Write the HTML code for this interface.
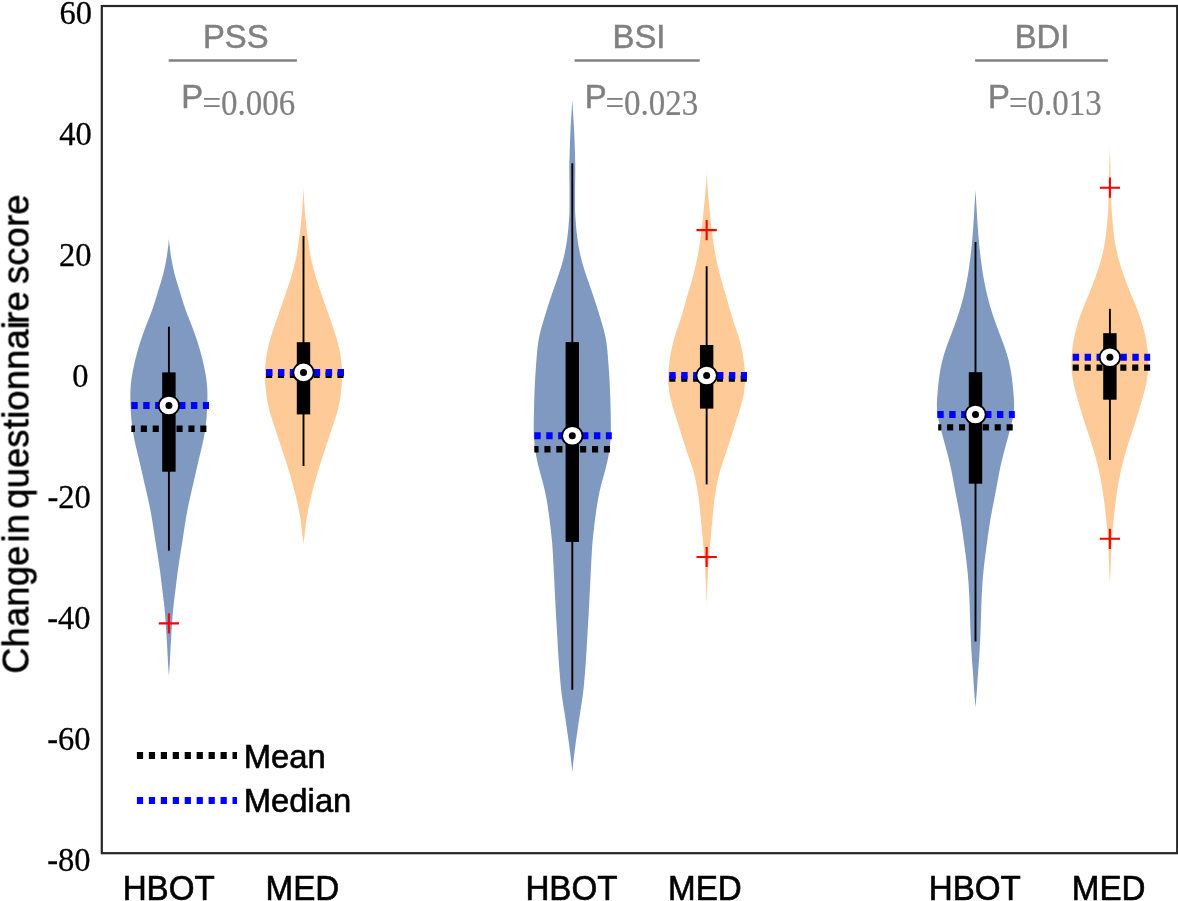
<!DOCTYPE html>
<html><head><meta charset="utf-8"><title>Violin chart</title>
<style>html,body{margin:0;padding:0;background:#fff;}svg{display:block;}</style></head>
<body><svg width="1178" height="901" viewBox="0 0 1178 901">
<defs><filter id="nf" x="0" y="0" width="1178" height="901" filterUnits="userSpaceOnUse" color-interpolation-filters="sRGB"><feOffset dx="0" dy="0" color-interpolation-filters="sRGB"/></filter></defs>
<rect width="1178" height="901" fill="#fff"/>
<g filter="url(#nf)">
<path d="M168.90,238.8 L169.07,240.8 L169.26,242.8 L169.46,244.8 L169.69,246.8 L169.93,248.8 L170.19,250.8 L170.46,252.8 L170.74,254.8 L171.05,256.8 L171.39,258.8 L171.74,260.8 L172.12,262.8 L172.51,264.8 L172.92,266.8 L173.35,268.8 L173.80,270.8 L174.27,272.8 L174.78,274.8 L175.33,276.8 L175.90,278.8 L176.49,280.8 L177.10,282.8 L177.70,284.8 L178.32,286.8 L178.93,288.8 L179.55,290.8 L180.16,292.8 L180.76,294.8 L181.37,296.8 L181.98,298.8 L182.60,300.8 L183.23,302.8 L183.88,304.8 L184.54,306.8 L185.23,308.8 L185.94,310.8 L186.67,312.8 L187.43,314.8 L188.20,316.8 L188.99,318.8 L189.78,320.8 L190.57,322.8 L191.35,324.8 L192.13,326.8 L192.90,328.8 L193.65,330.8 L194.38,332.8 L195.09,334.8 L195.79,336.8 L196.46,338.8 L197.12,340.8 L197.76,342.8 L198.39,344.8 L198.99,346.8 L199.58,348.8 L200.15,350.8 L200.70,352.8 L201.24,354.8 L201.76,356.8 L202.26,358.8 L202.75,360.8 L203.22,362.8 L203.67,364.8 L204.11,366.8 L204.53,368.8 L204.93,370.8 L205.31,372.8 L205.66,374.8 L205.99,376.8 L206.29,378.8 L206.56,380.8 L206.79,382.8 L206.98,384.8 L207.14,386.8 L207.26,388.8 L207.34,390.8 L207.40,392.8 L207.43,394.8 L207.43,396.8 L207.41,398.8 L207.38,400.8 L207.33,402.8 L207.27,404.8 L207.20,406.8 L207.11,408.8 L207.01,410.8 L206.90,412.8 L206.77,414.8 L206.63,416.8 L206.46,418.8 L206.27,420.8 L206.07,422.8 L205.84,424.8 L205.58,426.8 L205.31,428.8 L205.01,430.8 L204.69,432.8 L204.35,434.8 L203.99,436.8 L203.61,438.8 L203.20,440.8 L202.78,442.8 L202.34,444.8 L201.88,446.8 L201.41,448.8 L200.93,450.8 L200.45,452.8 L199.96,454.8 L199.47,456.8 L198.99,458.8 L198.51,460.8 L198.04,462.8 L197.58,464.8 L197.12,466.8 L196.66,468.8 L196.21,470.8 L195.76,472.8 L195.31,474.8 L194.86,476.8 L194.40,478.8 L193.94,480.8 L193.48,482.8 L193.01,484.8 L192.55,486.8 L192.09,488.8 L191.62,490.8 L191.16,492.8 L190.71,494.8 L190.26,496.8 L189.81,498.8 L189.37,500.8 L188.94,502.8 L188.52,504.8 L188.11,506.8 L187.71,508.8 L187.32,510.8 L186.94,512.8 L186.57,514.8 L186.21,516.8 L185.87,518.8 L185.54,520.8 L185.22,522.8 L184.90,524.8 L184.59,526.8 L184.29,528.8 L183.99,530.8 L183.68,532.8 L183.38,534.8 L183.07,536.8 L182.77,538.8 L182.45,540.8 L182.14,542.8 L181.83,544.8 L181.51,546.8 L181.19,548.8 L180.88,550.8 L180.56,552.8 L180.24,554.8 L179.93,556.8 L179.61,558.8 L179.30,560.8 L179.00,562.8 L178.69,564.8 L178.40,566.8 L178.11,568.8 L177.83,570.8 L177.56,572.8 L177.30,574.8 L177.04,576.8 L176.80,578.8 L176.55,580.8 L176.31,582.8 L176.08,584.8 L175.84,586.8 L175.60,588.8 L175.36,590.8 L175.12,592.8 L174.87,594.8 L174.62,596.8 L174.37,598.8 L174.12,600.8 L173.88,602.8 L173.64,604.8 L173.42,606.8 L173.22,608.8 L173.03,610.8 L172.85,612.8 L172.69,614.8 L172.53,616.8 L172.38,618.8 L172.24,620.8 L172.10,622.8 L171.96,624.8 L171.83,626.8 L171.70,628.8 L171.57,630.8 L171.45,632.8 L171.32,634.8 L171.21,636.8 L171.09,638.8 L170.98,640.8 L170.86,642.8 L170.75,644.8 L170.64,646.8 L170.53,648.8 L170.42,650.8 L170.32,652.8 L170.22,654.8 L170.12,656.8 L170.02,658.8 L169.92,660.8 L169.81,662.8 L169.69,664.8 L169.57,666.8 L169.43,668.8 L169.29,670.8 L169.14,672.8 L168.98,674.8 L168.90,675.8 L168.90,675.8 L168.82,674.8 L168.66,672.8 L168.51,670.8 L168.37,668.8 L168.23,666.8 L168.11,664.8 L167.99,662.8 L167.88,660.8 L167.78,658.8 L167.68,656.8 L167.58,654.8 L167.48,652.8 L167.38,650.8 L167.27,648.8 L167.16,646.8 L167.05,644.8 L166.94,642.8 L166.82,640.8 L166.71,638.8 L166.59,636.8 L166.48,634.8 L166.35,632.8 L166.23,630.8 L166.10,628.8 L165.97,626.8 L165.84,624.8 L165.70,622.8 L165.56,620.8 L165.42,618.8 L165.27,616.8 L165.11,614.8 L164.95,612.8 L164.77,610.8 L164.58,608.8 L164.38,606.8 L164.16,604.8 L163.92,602.8 L163.68,600.8 L163.43,598.8 L163.18,596.8 L162.93,594.8 L162.68,592.8 L162.44,590.8 L162.20,588.8 L161.96,586.8 L161.72,584.8 L161.49,582.8 L161.25,580.8 L161.00,578.8 L160.76,576.8 L160.50,574.8 L160.24,572.8 L159.97,570.8 L159.69,568.8 L159.40,566.8 L159.11,564.8 L158.80,562.8 L158.50,560.8 L158.19,558.8 L157.87,556.8 L157.56,554.8 L157.24,552.8 L156.92,550.8 L156.61,548.8 L156.29,546.8 L155.97,544.8 L155.66,542.8 L155.35,540.8 L155.03,538.8 L154.73,536.8 L154.42,534.8 L154.12,532.8 L153.81,530.8 L153.51,528.8 L153.21,526.8 L152.90,524.8 L152.58,522.8 L152.26,520.8 L151.93,518.8 L151.59,516.8 L151.23,514.8 L150.86,512.8 L150.48,510.8 L150.09,508.8 L149.69,506.8 L149.28,504.8 L148.86,502.8 L148.43,500.8 L147.99,498.8 L147.54,496.8 L147.09,494.8 L146.64,492.8 L146.18,490.8 L145.71,488.8 L145.25,486.8 L144.79,484.8 L144.32,482.8 L143.86,480.8 L143.40,478.8 L142.94,476.8 L142.49,474.8 L142.04,472.8 L141.59,470.8 L141.14,468.8 L140.68,466.8 L140.22,464.8 L139.76,462.8 L139.29,460.8 L138.81,458.8 L138.33,456.8 L137.84,454.8 L137.35,452.8 L136.87,450.8 L136.39,448.8 L135.92,446.8 L135.46,444.8 L135.02,442.8 L134.60,440.8 L134.19,438.8 L133.81,436.8 L133.45,434.8 L133.11,432.8 L132.79,430.8 L132.49,428.8 L132.22,426.8 L131.96,424.8 L131.73,422.8 L131.53,420.8 L131.34,418.8 L131.17,416.8 L131.03,414.8 L130.90,412.8 L130.79,410.8 L130.69,408.8 L130.60,406.8 L130.53,404.8 L130.47,402.8 L130.42,400.8 L130.39,398.8 L130.37,396.8 L130.37,394.8 L130.40,392.8 L130.46,390.8 L130.54,388.8 L130.66,386.8 L130.82,384.8 L131.01,382.8 L131.24,380.8 L131.51,378.8 L131.81,376.8 L132.14,374.8 L132.49,372.8 L132.87,370.8 L133.27,368.8 L133.69,366.8 L134.13,364.8 L134.58,362.8 L135.05,360.8 L135.54,358.8 L136.04,356.8 L136.56,354.8 L137.10,352.8 L137.65,350.8 L138.22,348.8 L138.81,346.8 L139.41,344.8 L140.04,342.8 L140.68,340.8 L141.34,338.8 L142.01,336.8 L142.71,334.8 L143.42,332.8 L144.15,330.8 L144.90,328.8 L145.67,326.8 L146.45,324.8 L147.23,322.8 L148.02,320.8 L148.81,318.8 L149.60,316.8 L150.37,314.8 L151.13,312.8 L151.86,310.8 L152.57,308.8 L153.26,306.8 L153.92,304.8 L154.57,302.8 L155.20,300.8 L155.82,298.8 L156.43,296.8 L157.04,294.8 L157.64,292.8 L158.25,290.8 L158.87,288.8 L159.48,286.8 L160.10,284.8 L160.70,282.8 L161.31,280.8 L161.90,278.8 L162.47,276.8 L163.02,274.8 L163.53,272.8 L164.00,270.8 L164.45,268.8 L164.88,266.8 L165.29,264.8 L165.68,262.8 L166.06,260.8 L166.41,258.8 L166.75,256.8 L167.06,254.8 L167.34,252.8 L167.61,250.8 L167.87,248.8 L168.11,246.8 L168.34,244.8 L168.54,242.8 L168.73,240.8 L168.90,238.8Z" fill="#8099c1"/>
<path d="M303.50,187.1 L303.57,189.1 L303.65,191.1 L303.74,193.1 L303.84,195.1 L303.95,197.1 L304.06,199.1 L304.18,201.1 L304.31,203.1 L304.44,205.1 L304.58,207.1 L304.74,209.1 L304.91,211.1 L305.09,213.1 L305.27,215.1 L305.46,217.1 L305.66,219.1 L305.86,221.1 L306.06,223.1 L306.27,225.1 L306.48,227.1 L306.69,229.1 L306.92,231.1 L307.15,233.1 L307.39,235.1 L307.64,237.1 L307.90,239.1 L308.17,241.1 L308.45,243.1 L308.74,245.1 L309.05,247.1 L309.37,249.1 L309.70,251.1 L310.05,253.1 L310.41,255.1 L310.80,257.1 L311.21,259.1 L311.64,261.1 L312.10,263.1 L312.58,265.1 L313.08,267.1 L313.61,269.1 L314.15,271.1 L314.71,273.1 L315.29,275.1 L315.88,277.1 L316.49,279.1 L317.12,281.1 L317.75,283.1 L318.40,285.1 L319.06,287.1 L319.72,289.1 L320.40,291.1 L321.08,293.1 L321.77,295.1 L322.46,297.1 L323.16,299.1 L323.85,301.1 L324.55,303.1 L325.26,305.1 L325.96,307.1 L326.66,309.1 L327.37,311.1 L328.07,313.1 L328.78,315.1 L329.48,317.1 L330.18,319.1 L330.88,321.1 L331.58,323.1 L332.27,325.1 L332.95,327.1 L333.61,329.1 L334.27,331.1 L334.91,333.1 L335.53,335.1 L336.14,337.1 L336.72,339.1 L337.28,341.1 L337.82,343.1 L338.33,345.1 L338.81,347.1 L339.27,349.1 L339.69,351.1 L340.07,353.1 L340.42,355.1 L340.74,357.1 L341.02,359.1 L341.26,361.1 L341.47,363.1 L341.64,365.1 L341.78,367.1 L341.89,369.1 L341.97,371.1 L342.01,373.1 L342.02,375.1 L342.01,377.1 L341.96,379.1 L341.89,381.1 L341.79,383.1 L341.66,385.1 L341.50,387.1 L341.32,389.1 L341.12,391.1 L340.89,393.1 L340.64,395.1 L340.36,397.1 L340.06,399.1 L339.72,401.1 L339.35,403.1 L338.95,405.1 L338.51,407.1 L338.03,409.1 L337.51,411.1 L336.95,413.1 L336.37,415.1 L335.75,417.1 L335.11,419.1 L334.45,421.1 L333.78,423.1 L333.11,425.1 L332.43,427.1 L331.75,429.1 L331.08,431.1 L330.41,433.1 L329.75,435.1 L329.09,437.1 L328.44,439.1 L327.79,441.1 L327.14,443.1 L326.48,445.1 L325.83,447.1 L325.18,449.1 L324.52,451.1 L323.86,453.1 L323.21,455.1 L322.56,457.1 L321.90,459.1 L321.26,461.1 L320.61,463.1 L319.98,465.1 L319.35,467.1 L318.73,469.1 L318.11,471.1 L317.51,473.1 L316.91,475.1 L316.32,477.1 L315.75,479.1 L315.18,481.1 L314.62,483.1 L314.07,485.1 L313.54,487.1 L313.01,489.1 L312.50,491.1 L311.99,493.1 L311.50,495.1 L311.02,497.1 L310.55,499.1 L310.09,501.1 L309.65,503.1 L309.22,505.1 L308.81,507.1 L308.41,509.1 L308.02,511.1 L307.65,513.1 L307.29,515.1 L306.94,517.1 L306.61,519.1 L306.30,521.1 L306.02,523.1 L305.75,525.1 L305.51,527.1 L305.28,529.1 L305.05,531.1 L304.83,533.1 L304.60,535.1 L304.35,537.1 L304.11,539.1 L303.86,541.1 L303.61,543.1 L303.50,544.0 L303.50,544.0 L303.39,543.1 L303.14,541.1 L302.89,539.1 L302.65,537.1 L302.40,535.1 L302.17,533.1 L301.95,531.1 L301.72,529.1 L301.49,527.1 L301.25,525.1 L300.98,523.1 L300.70,521.1 L300.39,519.1 L300.06,517.1 L299.71,515.1 L299.35,513.1 L298.98,511.1 L298.59,509.1 L298.19,507.1 L297.78,505.1 L297.35,503.1 L296.91,501.1 L296.45,499.1 L295.98,497.1 L295.50,495.1 L295.01,493.1 L294.50,491.1 L293.99,489.1 L293.46,487.1 L292.93,485.1 L292.38,483.1 L291.82,481.1 L291.25,479.1 L290.68,477.1 L290.09,475.1 L289.49,473.1 L288.89,471.1 L288.27,469.1 L287.65,467.1 L287.02,465.1 L286.39,463.1 L285.74,461.1 L285.10,459.1 L284.44,457.1 L283.79,455.1 L283.14,453.1 L282.48,451.1 L281.82,449.1 L281.17,447.1 L280.52,445.1 L279.86,443.1 L279.21,441.1 L278.56,439.1 L277.91,437.1 L277.25,435.1 L276.59,433.1 L275.92,431.1 L275.25,429.1 L274.57,427.1 L273.89,425.1 L273.22,423.1 L272.55,421.1 L271.89,419.1 L271.25,417.1 L270.63,415.1 L270.05,413.1 L269.49,411.1 L268.97,409.1 L268.49,407.1 L268.05,405.1 L267.65,403.1 L267.28,401.1 L266.94,399.1 L266.64,397.1 L266.36,395.1 L266.11,393.1 L265.88,391.1 L265.68,389.1 L265.50,387.1 L265.34,385.1 L265.21,383.1 L265.11,381.1 L265.04,379.1 L264.99,377.1 L264.98,375.1 L264.99,373.1 L265.03,371.1 L265.11,369.1 L265.22,367.1 L265.36,365.1 L265.53,363.1 L265.74,361.1 L265.98,359.1 L266.26,357.1 L266.58,355.1 L266.93,353.1 L267.31,351.1 L267.73,349.1 L268.19,347.1 L268.67,345.1 L269.18,343.1 L269.72,341.1 L270.28,339.1 L270.86,337.1 L271.47,335.1 L272.09,333.1 L272.73,331.1 L273.39,329.1 L274.05,327.1 L274.73,325.1 L275.42,323.1 L276.12,321.1 L276.82,319.1 L277.52,317.1 L278.22,315.1 L278.93,313.1 L279.63,311.1 L280.34,309.1 L281.04,307.1 L281.74,305.1 L282.45,303.1 L283.15,301.1 L283.84,299.1 L284.54,297.1 L285.23,295.1 L285.92,293.1 L286.60,291.1 L287.28,289.1 L287.94,287.1 L288.60,285.1 L289.25,283.1 L289.88,281.1 L290.51,279.1 L291.12,277.1 L291.71,275.1 L292.29,273.1 L292.85,271.1 L293.39,269.1 L293.92,267.1 L294.42,265.1 L294.90,263.1 L295.36,261.1 L295.79,259.1 L296.20,257.1 L296.59,255.1 L296.95,253.1 L297.30,251.1 L297.63,249.1 L297.95,247.1 L298.26,245.1 L298.55,243.1 L298.83,241.1 L299.10,239.1 L299.36,237.1 L299.61,235.1 L299.85,233.1 L300.08,231.1 L300.31,229.1 L300.52,227.1 L300.73,225.1 L300.94,223.1 L301.14,221.1 L301.34,219.1 L301.54,217.1 L301.73,215.1 L301.91,213.1 L302.09,211.1 L302.26,209.1 L302.42,207.1 L302.56,205.1 L302.69,203.1 L302.82,201.1 L302.94,199.1 L303.05,197.1 L303.16,195.1 L303.26,193.1 L303.35,191.1 L303.43,189.1 L303.50,187.1Z" fill="#fecb98"/>
<path d="M572.30,99.7 L572.42,101.7 L572.55,103.7 L572.67,105.7 L572.79,107.7 L572.91,109.7 L573.03,111.7 L573.14,113.7 L573.26,115.7 L573.38,117.7 L573.50,119.7 L573.62,121.7 L573.74,123.7 L573.85,125.7 L573.96,127.7 L574.07,129.7 L574.16,131.7 L574.25,133.7 L574.34,135.7 L574.42,137.7 L574.51,139.7 L574.58,141.7 L574.66,143.7 L574.73,145.7 L574.79,147.7 L574.85,149.7 L574.91,151.7 L574.97,153.7 L575.03,155.7 L575.08,157.7 L575.14,159.7 L575.19,161.7 L575.23,163.7 L575.27,165.7 L575.29,167.7 L575.30,169.7 L575.29,171.7 L575.27,173.7 L575.24,175.7 L575.21,177.7 L575.17,179.7 L575.13,181.7 L575.10,183.7 L575.07,185.7 L575.05,187.7 L575.05,189.7 L575.05,191.7 L575.05,193.7 L575.05,195.7 L575.05,197.7 L575.05,199.7 L575.05,201.7 L575.05,203.7 L575.05,205.7 L575.05,207.7 L575.07,209.7 L575.13,211.7 L575.21,213.7 L575.32,215.7 L575.45,217.7 L575.59,219.7 L575.74,221.7 L575.90,223.7 L576.05,225.7 L576.22,227.7 L576.40,229.7 L576.60,231.7 L576.83,233.7 L577.07,235.7 L577.32,237.7 L577.60,239.7 L577.88,241.7 L578.19,243.7 L578.52,245.7 L578.87,247.7 L579.25,249.7 L579.65,251.7 L580.07,253.7 L580.52,255.7 L580.99,257.7 L581.49,259.7 L582.02,261.7 L582.57,263.7 L583.15,265.7 L583.76,267.7 L584.38,269.7 L585.03,271.7 L585.69,273.7 L586.36,275.7 L587.04,277.7 L587.73,279.7 L588.42,281.7 L589.12,283.7 L589.81,285.7 L590.50,287.7 L591.19,289.7 L591.88,291.7 L592.56,293.7 L593.23,295.7 L593.91,297.7 L594.57,299.7 L595.23,301.7 L595.88,303.7 L596.53,305.7 L597.16,307.7 L597.79,309.7 L598.42,311.7 L599.04,313.7 L599.65,315.7 L600.26,317.7 L600.86,319.7 L601.46,321.7 L602.05,323.7 L602.62,325.7 L603.18,327.7 L603.72,329.7 L604.24,331.7 L604.72,333.7 L605.18,335.7 L605.59,337.7 L605.96,339.7 L606.29,341.7 L606.58,343.7 L606.84,345.7 L607.08,347.7 L607.28,349.7 L607.47,351.7 L607.64,353.7 L607.81,355.7 L607.97,357.7 L608.12,359.7 L608.28,361.7 L608.43,363.7 L608.58,365.7 L608.72,367.7 L608.86,369.7 L609.00,371.7 L609.14,373.7 L609.26,375.7 L609.38,377.7 L609.50,379.7 L609.61,381.7 L609.72,383.7 L609.81,385.7 L609.91,387.7 L609.99,389.7 L610.08,391.7 L610.15,393.7 L610.22,395.7 L610.29,397.7 L610.35,399.7 L610.41,401.7 L610.46,403.7 L610.51,405.7 L610.56,407.7 L610.61,409.7 L610.65,411.7 L610.70,413.7 L610.74,415.7 L610.78,417.7 L610.82,419.7 L610.85,421.7 L610.87,423.7 L610.88,425.7 L610.88,427.7 L610.86,429.7 L610.82,431.7 L610.76,433.7 L610.69,435.7 L610.58,437.7 L610.46,439.7 L610.31,441.7 L610.13,443.7 L609.93,445.7 L609.70,447.7 L609.43,449.7 L609.14,451.7 L608.81,453.7 L608.46,455.7 L608.07,457.7 L607.66,459.7 L607.23,461.7 L606.77,463.7 L606.29,465.7 L605.79,467.7 L605.28,469.7 L604.75,471.7 L604.21,473.7 L603.66,475.7 L603.11,477.7 L602.56,479.7 L602.01,481.7 L601.48,483.7 L600.96,485.7 L600.46,487.7 L599.99,489.7 L599.54,491.7 L599.12,493.7 L598.72,495.7 L598.34,497.7 L597.97,499.7 L597.63,501.7 L597.29,503.7 L596.98,505.7 L596.67,507.7 L596.37,509.7 L596.08,511.7 L595.80,513.7 L595.53,515.7 L595.27,517.7 L595.01,519.7 L594.76,521.7 L594.51,523.7 L594.27,525.7 L594.04,527.7 L593.80,529.7 L593.58,531.7 L593.36,533.7 L593.15,535.7 L592.95,537.7 L592.76,539.7 L592.57,541.7 L592.40,543.7 L592.25,545.7 L592.10,547.7 L591.97,549.7 L591.84,551.7 L591.72,553.7 L591.61,555.7 L591.51,557.7 L591.40,559.7 L591.30,561.7 L591.20,563.7 L591.11,565.7 L591.00,567.7 L590.90,569.7 L590.80,571.7 L590.70,573.7 L590.60,575.7 L590.49,577.7 L590.39,579.7 L590.29,581.7 L590.19,583.7 L590.09,585.7 L589.99,587.7 L589.89,589.7 L589.79,591.7 L589.69,593.7 L589.58,595.7 L589.48,597.7 L589.38,599.7 L589.28,601.7 L589.18,603.7 L589.07,605.7 L588.97,607.7 L588.86,609.7 L588.76,611.7 L588.65,613.7 L588.54,615.7 L588.43,617.7 L588.32,619.7 L588.20,621.7 L588.09,623.7 L587.97,625.7 L587.85,627.7 L587.73,629.7 L587.62,631.7 L587.50,633.7 L587.38,635.7 L587.26,637.7 L587.15,639.7 L587.03,641.7 L586.92,643.7 L586.81,645.7 L586.69,647.7 L586.58,649.7 L586.46,651.7 L586.34,653.7 L586.21,655.7 L586.09,657.7 L585.95,659.7 L585.82,661.7 L585.68,663.7 L585.53,665.7 L585.38,667.7 L585.23,669.7 L585.07,671.7 L584.91,673.7 L584.75,675.7 L584.58,677.7 L584.41,679.7 L584.23,681.7 L584.05,683.7 L583.85,685.7 L583.65,687.7 L583.44,689.7 L583.21,691.7 L582.97,693.7 L582.71,695.7 L582.43,697.7 L582.15,699.7 L581.85,701.7 L581.54,703.7 L581.23,705.7 L580.92,707.7 L580.60,709.7 L580.28,711.7 L579.97,713.7 L579.66,715.7 L579.36,717.7 L579.06,719.7 L578.76,721.7 L578.47,723.7 L578.18,725.7 L577.89,727.7 L577.60,729.7 L577.31,731.7 L577.03,733.7 L576.74,735.7 L576.46,737.7 L576.17,739.7 L575.89,741.7 L575.61,743.7 L575.33,745.7 L575.06,747.7 L574.80,749.7 L574.55,751.7 L574.30,753.7 L574.06,755.7 L573.82,757.7 L573.59,759.7 L573.36,761.7 L573.14,763.7 L572.93,765.7 L572.73,767.7 L572.54,769.7 L572.37,771.7 L572.30,772.5 L572.30,772.5 L572.23,771.7 L572.06,769.7 L571.87,767.7 L571.67,765.7 L571.46,763.7 L571.24,761.7 L571.01,759.7 L570.78,757.7 L570.54,755.7 L570.30,753.7 L570.05,751.7 L569.80,749.7 L569.54,747.7 L569.27,745.7 L568.99,743.7 L568.71,741.7 L568.43,739.7 L568.14,737.7 L567.86,735.7 L567.57,733.7 L567.29,731.7 L567.00,729.7 L566.71,727.7 L566.42,725.7 L566.13,723.7 L565.84,721.7 L565.54,719.7 L565.24,717.7 L564.94,715.7 L564.63,713.7 L564.32,711.7 L564.00,709.7 L563.68,707.7 L563.37,705.7 L563.06,703.7 L562.75,701.7 L562.45,699.7 L562.17,697.7 L561.89,695.7 L561.63,693.7 L561.39,691.7 L561.16,689.7 L560.95,687.7 L560.75,685.7 L560.55,683.7 L560.37,681.7 L560.19,679.7 L560.02,677.7 L559.85,675.7 L559.69,673.7 L559.53,671.7 L559.37,669.7 L559.22,667.7 L559.07,665.7 L558.92,663.7 L558.78,661.7 L558.65,659.7 L558.51,657.7 L558.39,655.7 L558.26,653.7 L558.14,651.7 L558.02,649.7 L557.91,647.7 L557.79,645.7 L557.68,643.7 L557.57,641.7 L557.45,639.7 L557.34,637.7 L557.22,635.7 L557.10,633.7 L556.98,631.7 L556.87,629.7 L556.75,627.7 L556.63,625.7 L556.51,623.7 L556.40,621.7 L556.28,619.7 L556.17,617.7 L556.06,615.7 L555.95,613.7 L555.84,611.7 L555.74,609.7 L555.63,607.7 L555.53,605.7 L555.42,603.7 L555.32,601.7 L555.22,599.7 L555.12,597.7 L555.02,595.7 L554.91,593.7 L554.81,591.7 L554.71,589.7 L554.61,587.7 L554.51,585.7 L554.41,583.7 L554.31,581.7 L554.21,579.7 L554.11,577.7 L554.00,575.7 L553.90,573.7 L553.80,571.7 L553.70,569.7 L553.60,567.7 L553.49,565.7 L553.40,563.7 L553.30,561.7 L553.20,559.7 L553.09,557.7 L552.99,555.7 L552.88,553.7 L552.76,551.7 L552.63,549.7 L552.50,547.7 L552.35,545.7 L552.20,543.7 L552.03,541.7 L551.84,539.7 L551.65,537.7 L551.45,535.7 L551.24,533.7 L551.02,531.7 L550.80,529.7 L550.56,527.7 L550.33,525.7 L550.09,523.7 L549.84,521.7 L549.59,519.7 L549.33,517.7 L549.07,515.7 L548.80,513.7 L548.52,511.7 L548.23,509.7 L547.93,507.7 L547.62,505.7 L547.31,503.7 L546.97,501.7 L546.63,499.7 L546.26,497.7 L545.88,495.7 L545.48,493.7 L545.06,491.7 L544.61,489.7 L544.14,487.7 L543.64,485.7 L543.12,483.7 L542.59,481.7 L542.04,479.7 L541.49,477.7 L540.94,475.7 L540.39,473.7 L539.85,471.7 L539.32,469.7 L538.81,467.7 L538.31,465.7 L537.83,463.7 L537.37,461.7 L536.94,459.7 L536.53,457.7 L536.14,455.7 L535.79,453.7 L535.46,451.7 L535.17,449.7 L534.90,447.7 L534.67,445.7 L534.47,443.7 L534.29,441.7 L534.14,439.7 L534.02,437.7 L533.91,435.7 L533.84,433.7 L533.78,431.7 L533.74,429.7 L533.72,427.7 L533.72,425.7 L533.73,423.7 L533.75,421.7 L533.78,419.7 L533.82,417.7 L533.86,415.7 L533.90,413.7 L533.95,411.7 L533.99,409.7 L534.04,407.7 L534.09,405.7 L534.14,403.7 L534.19,401.7 L534.25,399.7 L534.31,397.7 L534.38,395.7 L534.45,393.7 L534.52,391.7 L534.61,389.7 L534.69,387.7 L534.79,385.7 L534.88,383.7 L534.99,381.7 L535.10,379.7 L535.22,377.7 L535.34,375.7 L535.46,373.7 L535.60,371.7 L535.74,369.7 L535.88,367.7 L536.02,365.7 L536.17,363.7 L536.32,361.7 L536.48,359.7 L536.63,357.7 L536.79,355.7 L536.96,353.7 L537.13,351.7 L537.32,349.7 L537.52,347.7 L537.76,345.7 L538.02,343.7 L538.31,341.7 L538.64,339.7 L539.01,337.7 L539.42,335.7 L539.88,333.7 L540.36,331.7 L540.88,329.7 L541.42,327.7 L541.98,325.7 L542.55,323.7 L543.14,321.7 L543.74,319.7 L544.34,317.7 L544.95,315.7 L545.56,313.7 L546.18,311.7 L546.81,309.7 L547.44,307.7 L548.07,305.7 L548.72,303.7 L549.37,301.7 L550.03,299.7 L550.69,297.7 L551.37,295.7 L552.04,293.7 L552.72,291.7 L553.41,289.7 L554.10,287.7 L554.79,285.7 L555.48,283.7 L556.18,281.7 L556.87,279.7 L557.56,277.7 L558.24,275.7 L558.91,273.7 L559.57,271.7 L560.22,269.7 L560.84,267.7 L561.45,265.7 L562.03,263.7 L562.58,261.7 L563.11,259.7 L563.61,257.7 L564.08,255.7 L564.53,253.7 L564.95,251.7 L565.35,249.7 L565.73,247.7 L566.08,245.7 L566.41,243.7 L566.72,241.7 L567.00,239.7 L567.28,237.7 L567.53,235.7 L567.77,233.7 L568.00,231.7 L568.20,229.7 L568.38,227.7 L568.55,225.7 L568.70,223.7 L568.86,221.7 L569.01,219.7 L569.15,217.7 L569.28,215.7 L569.39,213.7 L569.47,211.7 L569.53,209.7 L569.55,207.7 L569.55,205.7 L569.55,203.7 L569.55,201.7 L569.55,199.7 L569.55,197.7 L569.55,195.7 L569.55,193.7 L569.55,191.7 L569.55,189.7 L569.55,187.7 L569.53,185.7 L569.50,183.7 L569.47,181.7 L569.43,179.7 L569.39,177.7 L569.36,175.7 L569.33,173.7 L569.31,171.7 L569.30,169.7 L569.31,167.7 L569.33,165.7 L569.37,163.7 L569.41,161.7 L569.46,159.7 L569.52,157.7 L569.57,155.7 L569.63,153.7 L569.69,151.7 L569.75,149.7 L569.81,147.7 L569.87,145.7 L569.94,143.7 L570.02,141.7 L570.09,139.7 L570.18,137.7 L570.26,135.7 L570.35,133.7 L570.44,131.7 L570.53,129.7 L570.64,127.7 L570.75,125.7 L570.86,123.7 L570.98,121.7 L571.10,119.7 L571.22,117.7 L571.34,115.7 L571.46,113.7 L571.57,111.7 L571.69,109.7 L571.81,107.7 L571.93,105.7 L572.05,103.7 L572.18,101.7 L572.30,99.7Z" fill="#8099c1"/>
<path d="M706.65,172.5 L706.75,174.5 L706.86,176.5 L706.97,178.5 L707.09,180.5 L707.22,182.5 L707.35,184.5 L707.49,186.5 L707.63,188.5 L707.78,190.5 L707.94,192.5 L708.11,194.5 L708.29,196.5 L708.47,198.5 L708.66,200.5 L708.86,202.5 L709.05,204.5 L709.25,206.5 L709.45,208.5 L709.65,210.5 L709.85,212.5 L710.06,214.5 L710.27,216.5 L710.48,218.5 L710.70,220.5 L710.92,222.5 L711.14,224.5 L711.37,226.5 L711.60,228.5 L711.84,230.5 L712.08,232.5 L712.32,234.5 L712.57,236.5 L712.83,238.5 L713.10,240.5 L713.38,242.5 L713.67,244.5 L713.98,246.5 L714.30,248.5 L714.64,250.5 L714.99,252.5 L715.35,254.5 L715.73,256.5 L716.13,258.5 L716.54,260.5 L716.96,262.5 L717.41,264.5 L717.87,266.5 L718.34,268.5 L718.83,270.5 L719.34,272.5 L719.86,274.5 L720.39,276.5 L720.93,278.5 L721.48,280.5 L722.05,282.5 L722.63,284.5 L723.21,286.5 L723.80,288.5 L724.39,290.5 L724.98,292.5 L725.57,294.5 L726.16,296.5 L726.75,298.5 L727.32,300.5 L727.89,302.5 L728.45,304.5 L729.00,306.5 L729.56,308.5 L730.11,310.5 L730.68,312.5 L731.26,314.5 L731.86,316.5 L732.47,318.5 L733.11,320.5 L733.78,322.5 L734.46,324.5 L735.16,326.5 L735.86,328.5 L736.56,330.5 L737.24,332.5 L737.91,334.5 L738.55,336.5 L739.16,338.5 L739.73,340.5 L740.26,342.5 L740.76,344.5 L741.22,346.5 L741.65,348.5 L742.04,350.5 L742.42,352.5 L742.77,354.5 L743.09,356.5 L743.40,358.5 L743.69,360.5 L743.96,362.5 L744.20,364.5 L744.42,366.5 L744.61,368.5 L744.78,370.5 L744.90,372.5 L745.00,374.5 L745.05,376.5 L745.07,378.5 L745.05,380.5 L744.98,382.5 L744.87,384.5 L744.72,386.5 L744.52,388.5 L744.28,390.5 L743.99,392.5 L743.64,394.5 L743.25,396.5 L742.81,398.5 L742.33,400.5 L741.81,402.5 L741.26,404.5 L740.69,406.5 L740.09,408.5 L739.48,410.5 L738.86,412.5 L738.23,414.5 L737.60,416.5 L736.97,418.5 L736.34,420.5 L735.70,422.5 L735.07,424.5 L734.44,426.5 L733.81,428.5 L733.18,430.5 L732.55,432.5 L731.92,434.5 L731.30,436.5 L730.67,438.5 L730.05,440.5 L729.42,442.5 L728.78,444.5 L728.13,446.5 L727.48,448.5 L726.82,450.5 L726.14,452.5 L725.46,454.5 L724.77,456.5 L724.08,458.5 L723.39,460.5 L722.72,462.5 L722.06,464.5 L721.41,466.5 L720.80,468.5 L720.21,470.5 L719.65,472.5 L719.12,474.5 L718.62,476.5 L718.15,478.5 L717.70,480.5 L717.28,482.5 L716.88,484.5 L716.51,486.5 L716.15,488.5 L715.81,490.5 L715.49,492.5 L715.19,494.5 L714.90,496.5 L714.63,498.5 L714.37,500.5 L714.12,502.5 L713.89,504.5 L713.66,506.5 L713.44,508.5 L713.23,510.5 L713.03,512.5 L712.83,514.5 L712.64,516.5 L712.46,518.5 L712.27,520.5 L712.09,522.5 L711.91,524.5 L711.73,526.5 L711.55,528.5 L711.36,530.5 L711.18,532.5 L711.00,534.5 L710.81,536.5 L710.63,538.5 L710.45,540.5 L710.27,542.5 L710.09,544.5 L709.92,546.5 L709.73,548.5 L709.55,550.5 L709.37,552.5 L709.18,554.5 L709.01,556.5 L708.84,558.5 L708.68,560.5 L708.54,562.5 L708.41,564.5 L708.29,566.5 L708.17,568.5 L708.06,570.5 L707.96,572.5 L707.86,574.5 L707.77,576.5 L707.68,578.5 L707.59,580.5 L707.50,582.5 L707.41,584.5 L707.33,586.5 L707.24,588.5 L707.16,590.5 L707.08,592.5 L707.00,594.5 L706.93,596.5 L706.85,598.5 L706.78,600.5 L706.71,602.5 L706.65,604.4 L706.65,604.4 L706.59,602.5 L706.52,600.5 L706.45,598.5 L706.37,596.5 L706.30,594.5 L706.22,592.5 L706.14,590.5 L706.06,588.5 L705.97,586.5 L705.89,584.5 L705.80,582.5 L705.71,580.5 L705.62,578.5 L705.53,576.5 L705.44,574.5 L705.34,572.5 L705.24,570.5 L705.13,568.5 L705.01,566.5 L704.89,564.5 L704.76,562.5 L704.62,560.5 L704.46,558.5 L704.29,556.5 L704.12,554.5 L703.93,552.5 L703.75,550.5 L703.57,548.5 L703.38,546.5 L703.21,544.5 L703.03,542.5 L702.85,540.5 L702.67,538.5 L702.49,536.5 L702.30,534.5 L702.12,532.5 L701.94,530.5 L701.75,528.5 L701.57,526.5 L701.39,524.5 L701.21,522.5 L701.03,520.5 L700.84,518.5 L700.66,516.5 L700.47,514.5 L700.27,512.5 L700.07,510.5 L699.86,508.5 L699.64,506.5 L699.41,504.5 L699.18,502.5 L698.93,500.5 L698.67,498.5 L698.40,496.5 L698.11,494.5 L697.81,492.5 L697.49,490.5 L697.15,488.5 L696.79,486.5 L696.42,484.5 L696.02,482.5 L695.60,480.5 L695.15,478.5 L694.68,476.5 L694.18,474.5 L693.65,472.5 L693.09,470.5 L692.50,468.5 L691.89,466.5 L691.24,464.5 L690.58,462.5 L689.91,460.5 L689.22,458.5 L688.53,456.5 L687.84,454.5 L687.16,452.5 L686.48,450.5 L685.82,448.5 L685.17,446.5 L684.52,444.5 L683.88,442.5 L683.25,440.5 L682.63,438.5 L682.00,436.5 L681.38,434.5 L680.75,432.5 L680.12,430.5 L679.49,428.5 L678.86,426.5 L678.23,424.5 L677.60,422.5 L676.96,420.5 L676.33,418.5 L675.70,416.5 L675.07,414.5 L674.44,412.5 L673.82,410.5 L673.21,408.5 L672.61,406.5 L672.04,404.5 L671.49,402.5 L670.97,400.5 L670.49,398.5 L670.05,396.5 L669.66,394.5 L669.31,392.5 L669.02,390.5 L668.78,388.5 L668.58,386.5 L668.43,384.5 L668.32,382.5 L668.25,380.5 L668.23,378.5 L668.25,376.5 L668.30,374.5 L668.40,372.5 L668.52,370.5 L668.69,368.5 L668.88,366.5 L669.10,364.5 L669.34,362.5 L669.61,360.5 L669.90,358.5 L670.21,356.5 L670.53,354.5 L670.88,352.5 L671.26,350.5 L671.65,348.5 L672.08,346.5 L672.54,344.5 L673.04,342.5 L673.57,340.5 L674.14,338.5 L674.75,336.5 L675.39,334.5 L676.06,332.5 L676.74,330.5 L677.44,328.5 L678.14,326.5 L678.84,324.5 L679.52,322.5 L680.19,320.5 L680.83,318.5 L681.44,316.5 L682.04,314.5 L682.62,312.5 L683.19,310.5 L683.74,308.5 L684.30,306.5 L684.85,304.5 L685.41,302.5 L685.98,300.5 L686.55,298.5 L687.14,296.5 L687.73,294.5 L688.32,292.5 L688.91,290.5 L689.50,288.5 L690.09,286.5 L690.67,284.5 L691.25,282.5 L691.82,280.5 L692.37,278.5 L692.91,276.5 L693.44,274.5 L693.96,272.5 L694.47,270.5 L694.96,268.5 L695.43,266.5 L695.89,264.5 L696.34,262.5 L696.76,260.5 L697.17,258.5 L697.57,256.5 L697.95,254.5 L698.31,252.5 L698.66,250.5 L699.00,248.5 L699.32,246.5 L699.63,244.5 L699.92,242.5 L700.20,240.5 L700.47,238.5 L700.73,236.5 L700.98,234.5 L701.22,232.5 L701.46,230.5 L701.70,228.5 L701.93,226.5 L702.16,224.5 L702.38,222.5 L702.60,220.5 L702.82,218.5 L703.03,216.5 L703.24,214.5 L703.45,212.5 L703.65,210.5 L703.85,208.5 L704.05,206.5 L704.25,204.5 L704.44,202.5 L704.64,200.5 L704.83,198.5 L705.01,196.5 L705.19,194.5 L705.36,192.5 L705.52,190.5 L705.67,188.5 L705.81,186.5 L705.95,184.5 L706.08,182.5 L706.21,180.5 L706.33,178.5 L706.44,176.5 L706.55,174.5 L706.65,172.5Z" fill="#fecb98"/>
<path d="M975.50,189.9 L975.62,191.9 L975.75,193.9 L975.87,195.9 L975.99,197.9 L976.11,199.9 L976.24,201.9 L976.36,203.9 L976.47,205.9 L976.59,207.9 L976.70,209.9 L976.81,211.9 L976.93,213.9 L977.04,215.9 L977.16,217.9 L977.28,219.9 L977.41,221.9 L977.54,223.9 L977.68,225.9 L977.82,227.9 L977.97,229.9 L978.12,231.9 L978.27,233.9 L978.44,235.9 L978.60,237.9 L978.77,239.9 L978.95,241.9 L979.14,243.9 L979.34,245.9 L979.54,247.9 L979.76,249.9 L979.98,251.9 L980.21,253.9 L980.44,255.9 L980.69,257.9 L980.94,259.9 L981.20,261.9 L981.47,263.9 L981.74,265.9 L982.03,267.9 L982.33,269.9 L982.64,271.9 L982.96,273.9 L983.29,275.9 L983.64,277.9 L984.00,279.9 L984.37,281.9 L984.76,283.9 L985.16,285.9 L985.58,287.9 L986.01,289.9 L986.46,291.9 L986.92,293.9 L987.40,295.9 L987.90,297.9 L988.42,299.9 L988.95,301.9 L989.50,303.9 L990.07,305.9 L990.65,307.9 L991.25,309.9 L991.87,311.9 L992.51,313.9 L993.17,315.9 L993.84,317.9 L994.53,319.9 L995.24,321.9 L995.95,323.9 L996.68,325.9 L997.42,327.9 L998.17,329.9 L998.92,331.9 L999.68,333.9 L1000.44,335.9 L1001.20,337.9 L1001.96,339.9 L1002.71,341.9 L1003.45,343.9 L1004.17,345.9 L1004.87,347.9 L1005.55,349.9 L1006.21,351.9 L1006.83,353.9 L1007.42,355.9 L1007.98,357.9 L1008.50,359.9 L1008.99,361.9 L1009.45,363.9 L1009.88,365.9 L1010.29,367.9 L1010.66,369.9 L1011.00,371.9 L1011.32,373.9 L1011.61,375.9 L1011.88,377.9 L1012.13,379.9 L1012.36,381.9 L1012.58,383.9 L1012.79,385.9 L1012.98,387.9 L1013.17,389.9 L1013.35,391.9 L1013.53,393.9 L1013.70,395.9 L1013.85,397.9 L1013.97,399.9 L1014.05,401.9 L1014.10,403.9 L1014.09,405.9 L1014.03,407.9 L1013.91,409.9 L1013.71,411.9 L1013.46,413.9 L1013.14,415.9 L1012.78,417.9 L1012.37,419.9 L1011.92,421.9 L1011.45,423.9 L1010.95,425.9 L1010.43,427.9 L1009.91,429.9 L1009.39,431.9 L1008.85,433.9 L1008.32,435.9 L1007.78,437.9 L1007.25,439.9 L1006.71,441.9 L1006.17,443.9 L1005.63,445.9 L1005.09,447.9 L1004.56,449.9 L1004.03,451.9 L1003.50,453.9 L1002.99,455.9 L1002.48,457.9 L1001.99,459.9 L1001.50,461.9 L1001.04,463.9 L1000.59,465.9 L1000.16,467.9 L999.74,469.9 L999.34,471.9 L998.95,473.9 L998.57,475.9 L998.20,477.9 L997.84,479.9 L997.47,481.9 L997.10,483.9 L996.73,485.9 L996.36,487.9 L995.98,489.9 L995.60,491.9 L995.22,493.9 L994.83,495.9 L994.44,497.9 L994.06,499.9 L993.67,501.9 L993.28,503.9 L992.89,505.9 L992.51,507.9 L992.13,509.9 L991.76,511.9 L991.39,513.9 L991.03,515.9 L990.67,517.9 L990.33,519.9 L990.00,521.9 L989.68,523.9 L989.37,525.9 L989.07,527.9 L988.78,529.9 L988.49,531.9 L988.21,533.9 L987.94,535.9 L987.66,537.9 L987.39,539.9 L987.12,541.9 L986.84,543.9 L986.57,545.9 L986.29,547.9 L986.02,549.9 L985.74,551.9 L985.48,553.9 L985.22,555.9 L984.96,557.9 L984.71,559.9 L984.47,561.9 L984.24,563.9 L984.02,565.9 L983.81,567.9 L983.60,569.9 L983.41,571.9 L983.22,573.9 L983.04,575.9 L982.87,577.9 L982.71,579.9 L982.56,581.9 L982.42,583.9 L982.29,585.9 L982.16,587.9 L982.04,589.9 L981.93,591.9 L981.82,593.9 L981.72,595.9 L981.63,597.9 L981.55,599.9 L981.47,601.9 L981.40,603.9 L981.33,605.9 L981.27,607.9 L981.20,609.9 L981.14,611.9 L981.08,613.9 L981.01,615.9 L980.95,617.9 L980.88,619.9 L980.82,621.9 L980.75,623.9 L980.68,625.9 L980.62,627.9 L980.55,629.9 L980.47,631.9 L980.39,633.9 L980.31,635.9 L980.23,637.9 L980.14,639.9 L980.04,641.9 L979.95,643.9 L979.85,645.9 L979.74,647.9 L979.63,649.9 L979.51,651.9 L979.39,653.9 L979.27,655.9 L979.13,657.9 L978.99,659.9 L978.84,661.9 L978.69,663.9 L978.54,665.9 L978.39,667.9 L978.24,669.9 L978.09,671.9 L977.95,673.9 L977.82,675.9 L977.69,677.9 L977.56,679.9 L977.44,681.9 L977.31,683.9 L977.18,685.9 L977.04,687.9 L976.90,689.9 L976.76,691.9 L976.60,693.9 L976.45,695.9 L976.29,697.9 L976.13,699.9 L975.96,701.9 L975.79,703.9 L975.61,705.9 L975.50,707.2 L975.50,707.2 L975.39,705.9 L975.21,703.9 L975.04,701.9 L974.87,699.9 L974.71,697.9 L974.55,695.9 L974.40,693.9 L974.24,691.9 L974.10,689.9 L973.96,687.9 L973.82,685.9 L973.69,683.9 L973.56,681.9 L973.44,679.9 L973.31,677.9 L973.18,675.9 L973.05,673.9 L972.91,671.9 L972.76,669.9 L972.61,667.9 L972.46,665.9 L972.31,663.9 L972.16,661.9 L972.01,659.9 L971.87,657.9 L971.73,655.9 L971.61,653.9 L971.49,651.9 L971.37,649.9 L971.26,647.9 L971.15,645.9 L971.05,643.9 L970.96,641.9 L970.86,639.9 L970.77,637.9 L970.69,635.9 L970.61,633.9 L970.53,631.9 L970.45,629.9 L970.38,627.9 L970.32,625.9 L970.25,623.9 L970.18,621.9 L970.12,619.9 L970.05,617.9 L969.99,615.9 L969.92,613.9 L969.86,611.9 L969.80,609.9 L969.73,607.9 L969.67,605.9 L969.60,603.9 L969.53,601.9 L969.45,599.9 L969.37,597.9 L969.28,595.9 L969.18,593.9 L969.07,591.9 L968.96,589.9 L968.84,587.9 L968.71,585.9 L968.58,583.9 L968.44,581.9 L968.29,579.9 L968.13,577.9 L967.96,575.9 L967.78,573.9 L967.59,571.9 L967.40,569.9 L967.19,567.9 L966.98,565.9 L966.76,563.9 L966.53,561.9 L966.29,559.9 L966.04,557.9 L965.78,555.9 L965.52,553.9 L965.26,551.9 L964.98,549.9 L964.71,547.9 L964.43,545.9 L964.16,543.9 L963.88,541.9 L963.61,539.9 L963.34,537.9 L963.06,535.9 L962.79,533.9 L962.51,531.9 L962.22,529.9 L961.93,527.9 L961.63,525.9 L961.32,523.9 L961.00,521.9 L960.67,519.9 L960.33,517.9 L959.97,515.9 L959.61,513.9 L959.24,511.9 L958.87,509.9 L958.49,507.9 L958.11,505.9 L957.72,503.9 L957.33,501.9 L956.94,499.9 L956.56,497.9 L956.17,495.9 L955.78,493.9 L955.40,491.9 L955.02,489.9 L954.64,487.9 L954.27,485.9 L953.90,483.9 L953.53,481.9 L953.16,479.9 L952.80,477.9 L952.43,475.9 L952.05,473.9 L951.66,471.9 L951.26,469.9 L950.84,467.9 L950.41,465.9 L949.96,463.9 L949.50,461.9 L949.01,459.9 L948.52,457.9 L948.01,455.9 L947.50,453.9 L946.97,451.9 L946.44,449.9 L945.91,447.9 L945.37,445.9 L944.83,443.9 L944.29,441.9 L943.75,439.9 L943.22,437.9 L942.68,435.9 L942.15,433.9 L941.61,431.9 L941.09,429.9 L940.57,427.9 L940.05,425.9 L939.55,423.9 L939.08,421.9 L938.63,419.9 L938.22,417.9 L937.86,415.9 L937.54,413.9 L937.29,411.9 L937.09,409.9 L936.97,407.9 L936.91,405.9 L936.90,403.9 L936.95,401.9 L937.03,399.9 L937.15,397.9 L937.30,395.9 L937.47,393.9 L937.65,391.9 L937.83,389.9 L938.02,387.9 L938.21,385.9 L938.42,383.9 L938.64,381.9 L938.87,379.9 L939.12,377.9 L939.39,375.9 L939.68,373.9 L940.00,371.9 L940.34,369.9 L940.71,367.9 L941.12,365.9 L941.55,363.9 L942.01,361.9 L942.50,359.9 L943.02,357.9 L943.58,355.9 L944.17,353.9 L944.79,351.9 L945.45,349.9 L946.13,347.9 L946.83,345.9 L947.55,343.9 L948.29,341.9 L949.04,339.9 L949.80,337.9 L950.56,335.9 L951.32,333.9 L952.08,331.9 L952.83,329.9 L953.58,327.9 L954.32,325.9 L955.05,323.9 L955.76,321.9 L956.47,319.9 L957.16,317.9 L957.83,315.9 L958.49,313.9 L959.13,311.9 L959.75,309.9 L960.35,307.9 L960.93,305.9 L961.50,303.9 L962.05,301.9 L962.58,299.9 L963.10,297.9 L963.60,295.9 L964.08,293.9 L964.54,291.9 L964.99,289.9 L965.42,287.9 L965.84,285.9 L966.24,283.9 L966.63,281.9 L967.00,279.9 L967.36,277.9 L967.71,275.9 L968.04,273.9 L968.36,271.9 L968.67,269.9 L968.97,267.9 L969.26,265.9 L969.53,263.9 L969.80,261.9 L970.06,259.9 L970.31,257.9 L970.56,255.9 L970.79,253.9 L971.02,251.9 L971.24,249.9 L971.46,247.9 L971.66,245.9 L971.86,243.9 L972.05,241.9 L972.23,239.9 L972.40,237.9 L972.56,235.9 L972.73,233.9 L972.88,231.9 L973.03,229.9 L973.18,227.9 L973.32,225.9 L973.46,223.9 L973.59,221.9 L973.72,219.9 L973.84,217.9 L973.96,215.9 L974.07,213.9 L974.19,211.9 L974.30,209.9 L974.41,207.9 L974.53,205.9 L974.64,203.9 L974.76,201.9 L974.89,199.9 L975.01,197.9 L975.13,195.9 L975.25,193.9 L975.38,191.9 L975.50,189.9Z" fill="#8099c1"/>
<path d="M1109.90,148.0 L1109.97,150.0 L1110.05,152.0 L1110.11,154.0 L1110.18,156.0 L1110.24,158.0 L1110.30,160.0 L1110.36,162.0 L1110.40,164.0 L1110.45,166.0 L1110.49,168.0 L1110.53,170.0 L1110.56,172.0 L1110.59,174.0 L1110.63,176.0 L1110.66,178.0 L1110.70,180.0 L1110.74,182.0 L1110.78,184.0 L1110.83,186.0 L1110.87,188.0 L1110.92,190.0 L1110.97,192.0 L1111.02,194.0 L1111.07,196.0 L1111.14,198.0 L1111.20,200.0 L1111.28,202.0 L1111.37,204.0 L1111.47,206.0 L1111.58,208.0 L1111.71,210.0 L1111.84,212.0 L1111.99,214.0 L1112.14,216.0 L1112.29,218.0 L1112.45,220.0 L1112.61,222.0 L1112.79,224.0 L1112.97,226.0 L1113.17,228.0 L1113.37,230.0 L1113.59,232.0 L1113.83,234.0 L1114.07,236.0 L1114.34,238.0 L1114.62,240.0 L1114.94,242.0 L1115.28,244.0 L1115.65,246.0 L1116.03,248.0 L1116.44,250.0 L1116.88,252.0 L1117.33,254.0 L1117.82,256.0 L1118.33,258.0 L1118.87,260.0 L1119.44,262.0 L1120.03,264.0 L1120.64,266.0 L1121.28,268.0 L1121.93,270.0 L1122.60,272.0 L1123.29,274.0 L1123.99,276.0 L1124.71,278.0 L1125.44,280.0 L1126.18,282.0 L1126.94,284.0 L1127.71,286.0 L1128.49,288.0 L1129.28,290.0 L1130.08,292.0 L1130.89,294.0 L1131.71,296.0 L1132.54,298.0 L1133.38,300.0 L1134.21,302.0 L1135.04,304.0 L1135.86,306.0 L1136.67,308.0 L1137.46,310.0 L1138.23,312.0 L1138.97,314.0 L1139.69,316.0 L1140.37,318.0 L1141.03,320.0 L1141.66,322.0 L1142.26,324.0 L1142.83,326.0 L1143.37,328.0 L1143.89,330.0 L1144.38,332.0 L1144.84,334.0 L1145.28,336.0 L1145.69,338.0 L1146.07,340.0 L1146.43,342.0 L1146.75,344.0 L1147.05,346.0 L1147.32,348.0 L1147.56,350.0 L1147.77,352.0 L1147.95,354.0 L1148.10,356.0 L1148.22,358.0 L1148.30,360.0 L1148.34,362.0 L1148.34,364.0 L1148.30,366.0 L1148.22,368.0 L1148.10,370.0 L1147.93,372.0 L1147.72,374.0 L1147.46,376.0 L1147.17,378.0 L1146.84,380.0 L1146.47,382.0 L1146.07,384.0 L1145.64,386.0 L1145.19,388.0 L1144.71,390.0 L1144.21,392.0 L1143.68,394.0 L1143.14,396.0 L1142.58,398.0 L1142.01,400.0 L1141.43,402.0 L1140.84,404.0 L1140.25,406.0 L1139.65,408.0 L1139.05,410.0 L1138.45,412.0 L1137.85,414.0 L1137.24,416.0 L1136.62,418.0 L1136.00,420.0 L1135.38,422.0 L1134.74,424.0 L1134.10,426.0 L1133.44,428.0 L1132.78,430.0 L1132.12,432.0 L1131.45,434.0 L1130.78,436.0 L1130.12,438.0 L1129.46,440.0 L1128.81,442.0 L1128.17,444.0 L1127.54,446.0 L1126.92,448.0 L1126.32,450.0 L1125.74,452.0 L1125.16,454.0 L1124.60,456.0 L1124.06,458.0 L1123.52,460.0 L1123.01,462.0 L1122.50,464.0 L1122.01,466.0 L1121.53,468.0 L1121.06,470.0 L1120.61,472.0 L1120.18,474.0 L1119.76,476.0 L1119.35,478.0 L1118.96,480.0 L1118.59,482.0 L1118.24,484.0 L1117.90,486.0 L1117.57,488.0 L1117.26,490.0 L1116.96,492.0 L1116.68,494.0 L1116.40,496.0 L1116.13,498.0 L1115.87,500.0 L1115.61,502.0 L1115.36,504.0 L1115.11,506.0 L1114.87,508.0 L1114.63,510.0 L1114.40,512.0 L1114.18,514.0 L1113.96,516.0 L1113.75,518.0 L1113.55,520.0 L1113.35,522.0 L1113.15,524.0 L1112.96,526.0 L1112.77,528.0 L1112.59,530.0 L1112.41,532.0 L1112.25,534.0 L1112.09,536.0 L1111.95,538.0 L1111.82,540.0 L1111.70,542.0 L1111.59,544.0 L1111.48,546.0 L1111.38,548.0 L1111.28,550.0 L1111.19,552.0 L1111.10,554.0 L1111.01,556.0 L1110.93,558.0 L1110.85,560.0 L1110.79,562.0 L1110.72,564.0 L1110.66,566.0 L1110.60,568.0 L1110.54,570.0 L1110.47,572.0 L1110.40,574.0 L1110.31,576.0 L1110.21,578.0 L1110.09,580.0 L1109.95,582.0 L1109.90,582.8 L1109.90,582.8 L1109.85,582.0 L1109.71,580.0 L1109.59,578.0 L1109.49,576.0 L1109.40,574.0 L1109.33,572.0 L1109.26,570.0 L1109.20,568.0 L1109.14,566.0 L1109.08,564.0 L1109.01,562.0 L1108.95,560.0 L1108.87,558.0 L1108.79,556.0 L1108.70,554.0 L1108.61,552.0 L1108.52,550.0 L1108.42,548.0 L1108.32,546.0 L1108.21,544.0 L1108.10,542.0 L1107.98,540.0 L1107.85,538.0 L1107.71,536.0 L1107.55,534.0 L1107.39,532.0 L1107.21,530.0 L1107.03,528.0 L1106.84,526.0 L1106.65,524.0 L1106.45,522.0 L1106.25,520.0 L1106.05,518.0 L1105.84,516.0 L1105.62,514.0 L1105.40,512.0 L1105.17,510.0 L1104.93,508.0 L1104.69,506.0 L1104.44,504.0 L1104.19,502.0 L1103.93,500.0 L1103.67,498.0 L1103.40,496.0 L1103.12,494.0 L1102.84,492.0 L1102.54,490.0 L1102.23,488.0 L1101.90,486.0 L1101.56,484.0 L1101.21,482.0 L1100.84,480.0 L1100.45,478.0 L1100.04,476.0 L1099.62,474.0 L1099.19,472.0 L1098.74,470.0 L1098.27,468.0 L1097.79,466.0 L1097.30,464.0 L1096.79,462.0 L1096.28,460.0 L1095.74,458.0 L1095.20,456.0 L1094.64,454.0 L1094.06,452.0 L1093.48,450.0 L1092.88,448.0 L1092.26,446.0 L1091.63,444.0 L1090.99,442.0 L1090.34,440.0 L1089.68,438.0 L1089.02,436.0 L1088.35,434.0 L1087.68,432.0 L1087.02,430.0 L1086.36,428.0 L1085.70,426.0 L1085.06,424.0 L1084.42,422.0 L1083.80,420.0 L1083.18,418.0 L1082.56,416.0 L1081.95,414.0 L1081.35,412.0 L1080.75,410.0 L1080.15,408.0 L1079.55,406.0 L1078.96,404.0 L1078.37,402.0 L1077.79,400.0 L1077.22,398.0 L1076.66,396.0 L1076.12,394.0 L1075.59,392.0 L1075.09,390.0 L1074.61,388.0 L1074.16,386.0 L1073.73,384.0 L1073.33,382.0 L1072.96,380.0 L1072.63,378.0 L1072.34,376.0 L1072.08,374.0 L1071.87,372.0 L1071.70,370.0 L1071.58,368.0 L1071.50,366.0 L1071.46,364.0 L1071.46,362.0 L1071.50,360.0 L1071.58,358.0 L1071.70,356.0 L1071.85,354.0 L1072.03,352.0 L1072.24,350.0 L1072.48,348.0 L1072.75,346.0 L1073.05,344.0 L1073.37,342.0 L1073.73,340.0 L1074.11,338.0 L1074.52,336.0 L1074.96,334.0 L1075.42,332.0 L1075.91,330.0 L1076.43,328.0 L1076.97,326.0 L1077.54,324.0 L1078.14,322.0 L1078.77,320.0 L1079.43,318.0 L1080.11,316.0 L1080.83,314.0 L1081.57,312.0 L1082.34,310.0 L1083.13,308.0 L1083.94,306.0 L1084.76,304.0 L1085.59,302.0 L1086.42,300.0 L1087.26,298.0 L1088.09,296.0 L1088.91,294.0 L1089.72,292.0 L1090.52,290.0 L1091.31,288.0 L1092.09,286.0 L1092.86,284.0 L1093.62,282.0 L1094.36,280.0 L1095.09,278.0 L1095.81,276.0 L1096.51,274.0 L1097.20,272.0 L1097.87,270.0 L1098.52,268.0 L1099.16,266.0 L1099.77,264.0 L1100.36,262.0 L1100.93,260.0 L1101.47,258.0 L1101.98,256.0 L1102.47,254.0 L1102.92,252.0 L1103.36,250.0 L1103.77,248.0 L1104.15,246.0 L1104.52,244.0 L1104.86,242.0 L1105.18,240.0 L1105.46,238.0 L1105.73,236.0 L1105.97,234.0 L1106.21,232.0 L1106.43,230.0 L1106.63,228.0 L1106.83,226.0 L1107.01,224.0 L1107.19,222.0 L1107.35,220.0 L1107.51,218.0 L1107.66,216.0 L1107.81,214.0 L1107.96,212.0 L1108.09,210.0 L1108.22,208.0 L1108.33,206.0 L1108.43,204.0 L1108.52,202.0 L1108.60,200.0 L1108.66,198.0 L1108.73,196.0 L1108.78,194.0 L1108.83,192.0 L1108.88,190.0 L1108.93,188.0 L1108.97,186.0 L1109.02,184.0 L1109.06,182.0 L1109.10,180.0 L1109.14,178.0 L1109.17,176.0 L1109.21,174.0 L1109.24,172.0 L1109.27,170.0 L1109.31,168.0 L1109.35,166.0 L1109.40,164.0 L1109.44,162.0 L1109.50,160.0 L1109.56,158.0 L1109.62,156.0 L1109.69,154.0 L1109.75,152.0 L1109.83,150.0 L1109.90,148.0Z" fill="#fecb98"/>
<line x1="206.4" y1="428.8" x2="131.3" y2="428.8" stroke="#000" stroke-width="6.4" stroke-dasharray="6.1 5.8"/>
<line x1="131.3" y1="405.5" x2="209.0" y2="405.5" stroke="#0000ff" stroke-width="7" stroke-dasharray="6.4 5.53"/>
<line x1="168.9" y1="326.7" x2="168.9" y2="550.7" stroke="#000" stroke-width="1.9"/>
<rect x="162.20" y="372.4" width="13.4" height="99.3" fill="#000"/>
<ellipse cx="168.9" cy="405.5" rx="10.2" ry="9.7" fill="#fff" stroke="#000" stroke-width="1.8"/>
<circle cx="168.9" cy="405.5" r="3.5" fill="#000"/>
<path d="M158.8,623.4 H179.0 M168.9,613.3 V633.5" stroke="#ff0000" stroke-width="2.1" fill="none"/>
<line x1="266.05" y1="374.7" x2="344.0" y2="374.7" stroke="#000" stroke-width="6.4" stroke-dasharray="6.1 5.8"/>
<line x1="266.05" y1="372.4" x2="344.0" y2="372.4" stroke="#0000ff" stroke-width="7" stroke-dasharray="6.4 5.53"/>
<line x1="303.5" y1="235.9" x2="303.5" y2="466.0" stroke="#000" stroke-width="1.9"/>
<rect x="296.80" y="342.2" width="13.4" height="72.2" fill="#000"/>
<ellipse cx="303.5" cy="372.4" rx="10.2" ry="9.7" fill="#fff" stroke="#000" stroke-width="1.8"/>
<circle cx="303.5" cy="372.4" r="3.5" fill="#000"/>
<line x1="610.0" y1="449.3" x2="534.3" y2="449.3" stroke="#000" stroke-width="6.4" stroke-dasharray="6.1 5.8"/>
<line x1="534.3" y1="435.7" x2="611.8" y2="435.7" stroke="#0000ff" stroke-width="7" stroke-dasharray="6.4 5.53"/>
<line x1="572.3" y1="163.3" x2="572.3" y2="689.8" stroke="#000" stroke-width="1.9"/>
<rect x="565.60" y="342.1" width="13.4" height="199.8" fill="#000"/>
<ellipse cx="572.3" cy="435.7" rx="10.2" ry="9.7" fill="#fff" stroke="#000" stroke-width="1.8"/>
<circle cx="572.3" cy="435.7" r="3.5" fill="#000"/>
<line x1="669.3" y1="378.6" x2="747.0" y2="378.6" stroke="#000" stroke-width="6.4" stroke-dasharray="6.1 5.8"/>
<line x1="669.3" y1="375.5" x2="747.0" y2="375.5" stroke="#0000ff" stroke-width="7" stroke-dasharray="6.4 5.53"/>
<line x1="706.65" y1="266.2" x2="706.65" y2="484.4" stroke="#000" stroke-width="1.9"/>
<rect x="699.95" y="345.0" width="13.4" height="63.6" fill="#000"/>
<ellipse cx="706.65" cy="375.5" rx="10.2" ry="9.7" fill="#fff" stroke="#000" stroke-width="1.8"/>
<circle cx="706.65" cy="375.5" r="3.5" fill="#000"/>
<path d="M696.5,230.1 H716.8 M706.65,220.0 V240.2" stroke="#ff0000" stroke-width="2.1" fill="none"/>
<path d="M696.5,557.0 H716.8 M706.65,546.9 V567.1" stroke="#ff0000" stroke-width="2.1" fill="none"/>
<line x1="1012.7" y1="427.4" x2="938.2" y2="427.4" stroke="#000" stroke-width="6.4" stroke-dasharray="6.1 5.8"/>
<line x1="937.3" y1="414.5" x2="1014.8" y2="414.5" stroke="#0000ff" stroke-width="7" stroke-dasharray="6.4 5.53"/>
<line x1="975.5" y1="242.0" x2="975.5" y2="641.4" stroke="#000" stroke-width="1.9"/>
<rect x="968.80" y="372.2" width="13.4" height="111.5" fill="#000"/>
<ellipse cx="975.5" cy="414.5" rx="10.2" ry="9.7" fill="#fff" stroke="#000" stroke-width="1.8"/>
<circle cx="975.5" cy="414.5" r="3.5" fill="#000"/>
<line x1="1072.7" y1="367.6" x2="1150.15" y2="367.6" stroke="#000" stroke-width="6.4" stroke-dasharray="6.1 5.8"/>
<line x1="1072.7" y1="357.2" x2="1150.15" y2="357.2" stroke="#0000ff" stroke-width="7" stroke-dasharray="6.4 5.53"/>
<line x1="1109.9" y1="308.8" x2="1109.9" y2="459.9" stroke="#000" stroke-width="1.9"/>
<rect x="1103.20" y="333.2" width="13.4" height="66.5" fill="#000"/>
<ellipse cx="1109.9" cy="357.2" rx="10.2" ry="9.7" fill="#fff" stroke="#000" stroke-width="1.8"/>
<circle cx="1109.9" cy="357.2" r="3.5" fill="#000"/>
<path d="M1099.8,187.7 H1120.0 M1109.9,177.6 V197.8" stroke="#ff0000" stroke-width="2.1" fill="none"/>
<path d="M1099.8,538.8 H1120.0 M1109.9,528.7 V548.9" stroke="#ff0000" stroke-width="2.1" fill="none"/>
<rect x="101.8" y="6.0" width="1075.4" height="847.2" fill="none" stroke="#262626" stroke-width="2.2"/>
<text transform="translate(92.1,23.6) scale(1,1.06)" x="0" y="0" text-anchor="end" font-family="Liberation Serif, serif" font-size="32.5" fill="#000" stroke="#000" stroke-width="0.3">60</text>
<text transform="translate(91.8,144.65) scale(1,1.06)" x="0" y="0" text-anchor="end" font-family="Liberation Serif, serif" font-size="32.5" fill="#000" stroke="#000" stroke-width="0.3">40</text>
<text transform="translate(91.6,265.70000000000005) scale(1,1.06)" x="0" y="0" text-anchor="end" font-family="Liberation Serif, serif" font-size="32.5" fill="#000" stroke="#000" stroke-width="0.3">20</text>
<text transform="translate(88.6,386.75) scale(1,1.06)" x="0" y="0" text-anchor="end" font-family="Liberation Serif, serif" font-size="32.5" fill="#000" stroke="#000" stroke-width="0.3">0</text>
<text transform="translate(90.7,507.8) scale(1,1.06)" x="0" y="0" text-anchor="end" font-family="Liberation Serif, serif" font-size="32.5" fill="#000" stroke="#000" stroke-width="0.3">-20</text>
<text transform="translate(90.6,628.85) scale(1,1.06)" x="0" y="0" text-anchor="end" font-family="Liberation Serif, serif" font-size="32.5" fill="#000" stroke="#000" stroke-width="0.3">-40</text>
<text transform="translate(90.6,749.9) scale(1,1.06)" x="0" y="0" text-anchor="end" font-family="Liberation Serif, serif" font-size="32.5" fill="#000" stroke="#000" stroke-width="0.3">-60</text>
<text transform="translate(90.5,870.95) scale(1,1.06)" x="0" y="0" text-anchor="end" font-family="Liberation Serif, serif" font-size="32.5" fill="#000" stroke="#000" stroke-width="0.3">-80</text>
<text transform="translate(168.75,899.7) scale(1,1.03)" text-anchor="middle" font-family="Liberation Sans, sans-serif" font-size="33.2" fill="#000" stroke="#000" stroke-width="0.6">HBOT</text>
<text transform="translate(571.5,899.7) scale(1,1.03)" text-anchor="middle" font-family="Liberation Sans, sans-serif" font-size="33.2" fill="#000" stroke="#000" stroke-width="0.6">HBOT</text>
<text transform="translate(974.8,899.7) scale(1,1.03)" text-anchor="middle" font-family="Liberation Sans, sans-serif" font-size="33.2" fill="#000" stroke="#000" stroke-width="0.6">HBOT</text>
<text transform="translate(302.4,899.7) scale(1,1.03)" text-anchor="middle" font-family="Liberation Sans, sans-serif" font-size="33.2" fill="#000" stroke="#000" stroke-width="0.6">MED</text>
<text transform="translate(704.9,899.7) scale(1,1.03)" text-anchor="middle" font-family="Liberation Sans, sans-serif" font-size="33.2" fill="#000" stroke="#000" stroke-width="0.6">MED</text>
<text transform="translate(1108.6,899.7) scale(1,1.03)" text-anchor="middle" font-family="Liberation Sans, sans-serif" font-size="33.2" fill="#000" stroke="#000" stroke-width="0.6">MED</text>
<text transform="translate(28.5,675.6) rotate(-90)" letter-spacing="0.33" word-spacing="-5.2" font-family="Liberation Sans, sans-serif" font-size="36" fill="#000" stroke="#000" stroke-width="0.6"><tspan dx="2">Change</tspan><tspan dx="-2"> in questionnai</tspan><tspan dx="-3">re</tspan><tspan dx="2"> score</tspan></text>
<text x="235.7" y="48.3" text-anchor="middle" font-family="Liberation Sans, sans-serif" font-size="32.8" fill="#808080" stroke="#808080" stroke-width="0.5">PSS</text>
<line x1="168.7" y1="60.5" x2="296.9" y2="60.5" stroke="#808080" stroke-width="2.4"/>
<text x="181.2" y="108.4" font-family="Liberation Sans, sans-serif" font-size="32.8" fill="#808080" stroke="#808080" stroke-width="0.5">P</text>
<text transform="translate(202.5,114.6) scale(1,1.07)" font-family="Liberation Serif, serif" font-size="33" fill="#808080" stroke="#808080" stroke-width="0.2">=0.006</text>
<text x="639" y="48.3" text-anchor="middle" font-family="Liberation Sans, sans-serif" font-size="32.8" fill="#808080" stroke="#808080" stroke-width="0.5">BSI</text>
<line x1="574.6" y1="60.5" x2="699.7" y2="60.5" stroke="#808080" stroke-width="2.4"/>
<text x="584.7" y="108.4" font-family="Liberation Sans, sans-serif" font-size="32.8" fill="#808080" stroke="#808080" stroke-width="0.5">P</text>
<text transform="translate(605.5,114.6) scale(1,1.07)" font-family="Liberation Serif, serif" font-size="33" fill="#808080" stroke="#808080" stroke-width="0.2">=0.023</text>
<text x="1042" y="48.3" text-anchor="middle" font-family="Liberation Sans, sans-serif" font-size="32.8" fill="#808080" stroke="#808080" stroke-width="0.5">BDI</text>
<line x1="975.1" y1="60.5" x2="1107.9" y2="60.5" stroke="#808080" stroke-width="2.4"/>
<text x="988.0" y="108.4" font-family="Liberation Sans, sans-serif" font-size="32.8" fill="#808080" stroke="#808080" stroke-width="0.5">P</text>
<text transform="translate(1009.0,114.6) scale(1,1.07)" font-family="Liberation Serif, serif" font-size="33" fill="#808080" stroke="#808080" stroke-width="0.2">=0.013</text>
<line x1="136.9" y1="755.5" x2="237" y2="755.5" stroke="#000" stroke-width="6.9" stroke-dasharray="6.2 5.75"/>
<line x1="136.9" y1="800.6" x2="237" y2="800.6" stroke="#0000ff" stroke-width="7" stroke-dasharray="6.2 5.75"/>
<text x="243.8" y="767.5" font-family="Liberation Sans, sans-serif" font-size="32.8" fill="#000" stroke="#000" stroke-width="0.6">Mean</text>
<text x="243.8" y="812.0" font-family="Liberation Sans, sans-serif" font-size="32.8" fill="#000" stroke="#000" stroke-width="0.6">Median</text>
</g>
</svg></body></html>
